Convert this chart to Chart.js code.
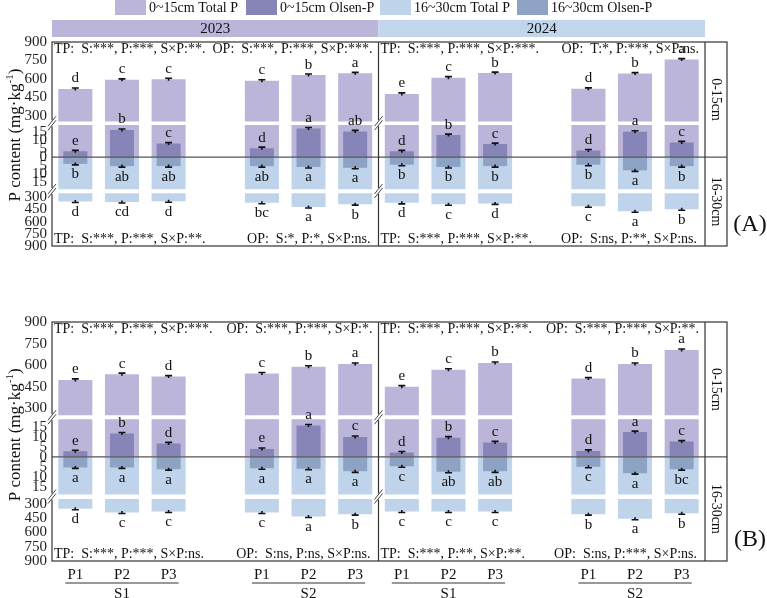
<!DOCTYPE html>
<html>
<head>
<meta charset="utf-8">
<script src="https://cdn.jsdelivr.net/npm/chart.js@4.4.0/dist/chart.umd.min.js"></script>
<style>
  html, body { margin: 0; padding: 0; background: #fff; }
  #wrap { position: relative; width: 767px; height: 598px; overflow: hidden; }
  canvas { position: absolute; left: 0; }
</style>
</head>
<body>
<div id="wrap">
  <canvas id="chartA" width="767" height="300" style="top:0"></canvas>
  <canvas id="chartB" width="767" height="298" style="top:300px"></canvas>
</div>
<script>
const SERIF = "'Liberation Serif', 'Times New Roman', serif";

// categories
const treatments = ["P1", "P2", "P3"];
const soils = ["S1", "S2"];
const years = ["2023", "2024"];
const legendNames = ["0~15cm Total P", "0~15cm Olsen-P", "16~30cm Total P", "16~30cm Olsen-P"];

// (A) values, order S1P1 S1P2 S1P3 S2P1 S2P2 S2P3
const aTp015_2023 = [518, 592, 597, 585, 631, 645];
const aTp015_2024 = [478, 610, 647, 519, 643, 757];
const aOp015_2023 = [3.4, 16, 8, 5.3, 16.9, 15.2];
const aOp015_2024 = [3.4, 13, 7.7, 3.9, 15, 8.7];
const aOp1630_2023 = [4, 5.3, 5.3, 5.3, 5.8, 6.3];
const aOp1630_2024 = [4.5, 5.8, 5.3, 4.5, 7.8, 5.3];
const aTp1630_2023 = [352, 358, 350, 368, 420, 385];
const aTp1630_2024 = [369, 386, 376, 411, 473, 448];

// (B) values
const bTp015_2023 = [498, 538, 521, 542, 589, 608];
const bTp015_2024 = [451, 568, 615, 507, 608, 706];
const bOp015_2023 = [2.8, 11.8, 6.8, 4, 15.8, 10];
const bOp015_2024 = [2.2, 9.7, 7.3, 3, 12.5, 7.7];
const bOp1630_2023 = [5.3, 5.3, 6.2, 5.7, 6, 7.3];
const bOp1630_2024 = [4.7, 7.5, 7.3, 5, 8.2, 6.2];
const bTp1630_2023 = [352, 390, 380, 390, 432, 408];
const bTp1630_2024 = [380, 380, 380, 408, 456, 398];

// significance letters
const aTp015Let = [["d", "c", "c", "c", "b", "a"], ["e", "c", "b", "d", "b", "a"]];
const aOp015Let = [["e", "b", "c", "d", "a", "ab"], ["d", "b", "c", "d", "a", "c"]];
const aOp1630Let = [["b", "ab", "ab", "ab", "a", "a"], ["b", "b", "b", "b", "a", "b"]];
const aTp1630Let = [["d", "cd", "d", "bc", "a", "b"], ["d", "c", "d", "c", "a", "b"]];
const bTp015Let = [["e", "c", "d", "c", "b", "a"], ["e", "c", "b", "d", "b", "a"]];
const bOp015Let = [["e", "b", "d", "e", "a", "c"], ["d", "b", "c", "d", "a", "c"]];
const bOp1630Let = [["a", "a", "a", "a", "a", "a"], ["c", "ab", "ab", "c", "a", "bc"]];
const bTp1630Let = [["d", "c", "c", "c", "a", "b"], ["c", "c", "c", "b", "a", "b"]];

// ANOVA notes [year][TP, OP]
const aStatsTop = [["TP:  S:***, P:***, S×P:**.", "OP:  S:***, P:***, S×P:***."], ["TP:  S:***, P:***, S×P:***.", "OP:  T:*, P:***, S×P:ns."]];
const aStatsBot = [["TP:  S:***, P:***, S×P:**.", "OP:  S:*, P:*, S×P:ns."], ["TP:  S:***, P:***, S×P:**.", "OP:  S:ns, P:**, S×P:ns."]];
const bStatsTop = [["TP:  S:***, P:***, S×P:***.", "OP:  S:***, P:***, S×P:*."], ["TP:  S:***, P:***, S×P:**.", "OP:  S:***, P:***, S×P:**."]];
const bStatsBot = [["TP:  S:***, P:***, S×P:ns.", "OP:  S:ns, P:ns, S×P:ns."], ["TP:  S:***, P:**, S×P:**.", "OP:  S:ns, P:***, S×P:ns."]];

// axis ticks
const totalTicks = [300, 450, 600, 750, 900];
const upTicks = [0, 5, 10, 15];
const downTicks = [5, 10, 15];

// axis breaks
const TOP_BREAK = 253, BOT_BREAK = 250, MID_CAP = 19;

const C_TP015 = "#bab5d9", C_OP015 = "#8784b7", C_TP1630 = "#bfd4eb", C_OP1630 = "#8ea3c4";
const C_H2023 = "#bab5d9", C_H2024 = "#c1d6ec";

// 14 slots: S1 P1-P3, gap, S2 P1-P3 for each year
const slotLabels = [];
years.forEach(() => soils.forEach((s, si) => {
  if (si === 1) slotLabels.push("");
  treatments.forEach(t => slotLabels.push(t));
}));
const spread = (a, b) => [a[0], a[1], a[2], null, a[3], a[4], a[5], b[0], b[1], b[2], null, b[3], b[4], b[5]];

function yAxis(weight, min, max, rev, ticks) {
  return {
    type: "linear", position: "left", stack: "panel", stackWeight: weight,
    min: min, max: max, reverse: rev,
    afterBuildTicks: s => { s.ticks = ticks.map(v => ({ value: v })); },
    afterFit: s => { s.width = 52; },
    grid: { display: false, drawTicks: false },
    border: { display: false },
    ticks: { font: { family: SERIF, size: 15 }, color: "#222", padding: 5, autoSkip: false }
  };
}

function makeDecor(p) {
  return {
    id: "decor",
    afterDatasetsDraw(chart) {
      const { ctx, chartArea: ca, scales: s } = chart;
      const x = s.x;
      const zeroY = s.yUp.getPixelForValue(0);
      const divX = (x.getPixelForValue(6) + x.getPixelForValue(7)) / 2;
      const brk1 = s.yTop.bottom, brk2 = s.yDown.bottom;
      const stripR = ca.right + 22;
      ctx.save();

      // error caps + letters
      ctx.font = "15px " + SERIF;
      ctx.textAlign = "center";
      const series = [
        { v: p.tp015, l: p.tp015Let, sc: s.yTop, dir: -1 },
        { v: p.op015, l: p.op015Let, sc: s.yUp, dir: -1 },
        { v: p.op1630, l: p.op1630Let, sc: s.yDown, dir: 1 },
        { v: p.tp1630, l: p.tp1630Let, sc: s.yBot, dir: 1 }
      ];
      series.forEach(sr => {
        const vals = spread(sr.v[0], sr.v[1]);
        const lets = spread(sr.l[0], sr.l[1]);
        vals.forEach((val, i) => {
          if (val == null) return;
          const px = x.getPixelForValue(i);
          const py = sr.sc.getPixelForValue(val) + sr.dir * 1;
          ctx.strokeStyle = "#111";
          ctx.lineWidth = 1.6;
          ctx.beginPath();
          ctx.moveTo(px - 3.5, py); ctx.lineTo(px + 3.5, py);
          ctx.moveTo(px, py); ctx.lineTo(px, py - sr.dir * 2.5);
          ctx.stroke();
          ctx.fillStyle = "#111";
          ctx.textBaseline = sr.dir < 0 ? "bottom" : "top";
          ctx.fillText(lets[i], px, py + sr.dir * 2);
        });
      });

      // zero line
      ctx.strokeStyle = "#555";
      ctx.lineWidth = 1.4;
      ctx.beginPath(); ctx.moveTo(ca.left, zeroY); ctx.lineTo(stripR, zeroY); ctx.stroke();

      // frame, divider, strip
      ctx.strokeStyle = "#333";
      ctx.lineWidth = 1.2;
      ctx.strokeRect(ca.left, ca.top, stripR - ca.left, ca.bottom - ca.top);
      ctx.beginPath();
      ctx.moveTo(divX, ca.top); ctx.lineTo(divX, ca.bottom);
      ctx.moveTo(ca.right, ca.top); ctx.lineTo(ca.right, ca.bottom);
      ctx.stroke();

      // break marks
      [ca.left, divX].forEach(bx => [brk1, brk2].forEach(by => {
        ctx.fillStyle = "#fff";
        ctx.fillRect(bx - 1.5, by - 3, 3, 6);
        ctx.strokeStyle = "#444";
        ctx.lineWidth = 1;
        ctx.beginPath();
        ctx.moveTo(bx - 4, by + 3); ctx.lineTo(bx + 4, by - 7);
        ctx.moveTo(bx - 4, by + 7); ctx.lineTo(bx + 4, by - 3);
        ctx.stroke();
      }));

      // strip labels
      ctx.fillStyle = "#111";
      ctx.font = "14px " + SERIF;
      ctx.textAlign = "center";
      ctx.textBaseline = "middle";
      [["0-15cm", (ca.top + zeroY) / 2], ["16-30cm", (zeroY + ca.bottom) / 2]].forEach(([t, cy]) => {
        ctx.save();
        ctx.translate((ca.right + stripR) / 2, cy);
        ctx.rotate(Math.PI / 2);
        ctx.fillText(t, 0, 0);
        ctx.restore();
      });

      // ANOVA notes
      ctx.font = "14px " + SERIF;
      const cols = [[ca.left, divX], [divX, ca.right]];
      cols.forEach(([l, r], yi) => {
        ctx.textAlign = "left";
        ctx.fillText(p.statsTop[yi][0], l + 2, ca.top + 7);
        ctx.fillText(p.statsBot[yi][0], l + 2, ca.bottom - 7);
        ctx.textAlign = "right";
        ctx.fillText(p.statsTop[yi][1], r - 6, ca.top + 7);
        ctx.fillText(p.statsBot[yi][1], r - 8, ca.bottom - 7);
      });

      // panel tag
      ctx.font = "24px " + SERIF;
      ctx.textAlign = "center";
      ctx.fillText(p.tag, 750, ca.bottom - 21);

      // y title
      ctx.save();
      ctx.translate(15, zeroY - 22);
      ctx.rotate(-Math.PI / 2);
      ctx.font = "17px " + SERIF;
      const t1 = "P content (mg·kg", t2 = "-1", t3 = ")";
      const w1 = ctx.measureText(t1).width, w3 = ctx.measureText(t3).width;
      ctx.font = "11px " + SERIF;
      const w2 = ctx.measureText(t2).width;
      let cx = -(w1 + w2 + w3) / 2;
      ctx.textAlign = "left";
      ctx.font = "17px " + SERIF;
      ctx.fillText(t1, cx, 1);
      ctx.font = "11px " + SERIF;
      ctx.fillText(t2, cx + w1, -5);
      ctx.font = "17px " + SERIF;
      ctx.fillText(t3, cx + w1 + w2, 1);
      ctx.restore();

      // year headers + legend (top panel)
      if (p.header) {
        ctx.fillStyle = C_H2023;
        ctx.fillRect(ca.left, 20, divX - ca.left, 17);
        ctx.fillStyle = C_H2024;
        ctx.fillRect(divX, 20, ca.right - divX, 17);
        ctx.fillStyle = "#111";
        ctx.font = "15px " + SERIF;
        ctx.textAlign = "center";
        ctx.fillText(years[0], (ca.left + divX) / 2, 29);
        ctx.fillText(years[1], (divX + ca.right) / 2, 29);
        const sw = [115, 246, 380, 517];
        const swc = [C_TP015, C_OP015, C_TP1630, C_OP1630];
        ctx.textAlign = "left";
        ctx.font = "14px " + SERIF;
        legendNames.forEach((n, i) => {
          ctx.fillStyle = swc[i];
          ctx.fillRect(sw[i], 0, 31, 15);
          ctx.fillStyle = "#111";
          ctx.fillText(n, sw[i] + 34, 8);
        });
      }

      // soil group labels (bottom panel)
      if (p.groups) {
        ctx.strokeStyle = "#333";
        ctx.lineWidth = 1;
        ctx.fillStyle = "#111";
        ctx.font = "15px " + SERIF;
        ctx.textAlign = "center";
        ctx.textBaseline = "top";
        years.forEach((yr, yi) => soils.forEach((sl, si) => {
          const st = yi * 7 + si * 4;
          const x0 = x.getPixelForValue(st) - 10, x1 = x.getPixelForValue(st + 2) + 10;
          ctx.beginPath(); ctx.moveTo(x0, ca.bottom + 22); ctx.lineTo(x1, ca.bottom + 22); ctx.stroke();
          ctx.fillText(sl, x.getPixelForValue(st + 1), ca.bottom + 26);
        }));
      }
      ctx.restore();
    }
  };
}

function buildChart(id, p) {
  const tpTop = spread(p.tp015[0], p.tp015[1]);
  const tpBot = spread(p.tp1630[0], p.tp1630[1]);
  const opTop = spread(p.op015[0], p.op015[1]);
  const opBot = spread(p.op1630[0], p.op1630[1]);
  const wide = { barPercentage: 0.73, categoryPercentage: 1, grouped: false, order: 2 };
  const narrow = { barPercentage: 0.515, categoryPercentage: 1, grouped: false, order: 1 };
  return new Chart(document.getElementById(id), {
    type: "bar",
    data: {
      labels: slotLabels,
      datasets: [
        { ...wide, label: legendNames[0], yAxisID: "yTop", backgroundColor: C_TP015,
          data: tpTop.map(v => v == null ? null : [TOP_BREAK, v]) },
        { ...wide, label: legendNames[0], yAxisID: "yUp", backgroundColor: C_TP015,
          data: tpTop.map(v => v == null ? null : Math.min(v, MID_CAP)) },
        { ...wide, label: legendNames[2], yAxisID: "yDown", backgroundColor: C_TP1630,
          data: tpBot.map(v => v == null ? null : Math.min(v, MID_CAP)) },
        { ...wide, label: legendNames[2], yAxisID: "yBot", backgroundColor: C_TP1630,
          data: tpBot.map(v => v == null ? null : [BOT_BREAK, v]) },
        { ...narrow, label: legendNames[1], yAxisID: "yUp", backgroundColor: C_OP015, data: opTop },
        { ...narrow, label: legendNames[3], yAxisID: "yDown", backgroundColor: C_OP1630, data: opBot }
      ]
    },
    options: {
      responsive: false,
      animation: false,
      events: [],
      layout: { padding: p.padding },
      plugins: { legend: { display: false }, tooltip: { enabled: false } },
      scales: {
        x: {
          type: "category", offset: true, display: p.groups,
          grid: { display: false, drawTicks: false }, border: { display: false },
          ticks: { font: { family: SERIF, size: 15 }, color: "#111", padding: 5, autoSkip: false, maxRotation: 0 },
          afterFit: s => { s.height = 37; }
        },
        // stacked axes are laid out bottom-up in definition order
        yBot: yAxis(65, 223, 900, true, totalTicks),
        yDown: yAxis(40, 0, 20, true, downTicks),
        yUp: yAxis(40, 0, 20, false, upTicks),
        yTop: yAxis(96, 239, 900, false, totalTicks)
      }
    },
    plugins: [makeDecor(p)]
  });
}

buildChart("chartA", {
  tp015: [aTp015_2023, aTp015_2024], op015: [aOp015_2023, aOp015_2024],
  op1630: [aOp1630_2023, aOp1630_2024], tp1630: [aTp1630_2023, aTp1630_2024],
  tp015Let: aTp015Let, op015Let: aOp015Let, op1630Let: aOp1630Let, tp1630Let: aTp1630Let,
  statsTop: aStatsTop, statsBot: aStatsBot, tag: "(A)", header: true, groups: false,
  padding: { top: 42, right: 62, bottom: 17, left: 0 }
});
buildChart("chartB", {
  tp015: [bTp015_2023, bTp015_2024], op015: [bOp015_2023, bOp015_2024],
  op1630: [bOp1630_2023, bOp1630_2024], tp1630: [bTp1630_2023, bTp1630_2024],
  tp015Let: bTp015Let, op015Let: bOp015Let, op1630Let: bOp1630Let, tp1630Let: bTp1630Let,
  statsTop: bStatsTop, statsBot: bStatsBot, tag: "(B)", header: false, groups: true,
  padding: { top: 22, right: 62, bottom: 0, left: 0 }
});
</script>
</body>
</html>
